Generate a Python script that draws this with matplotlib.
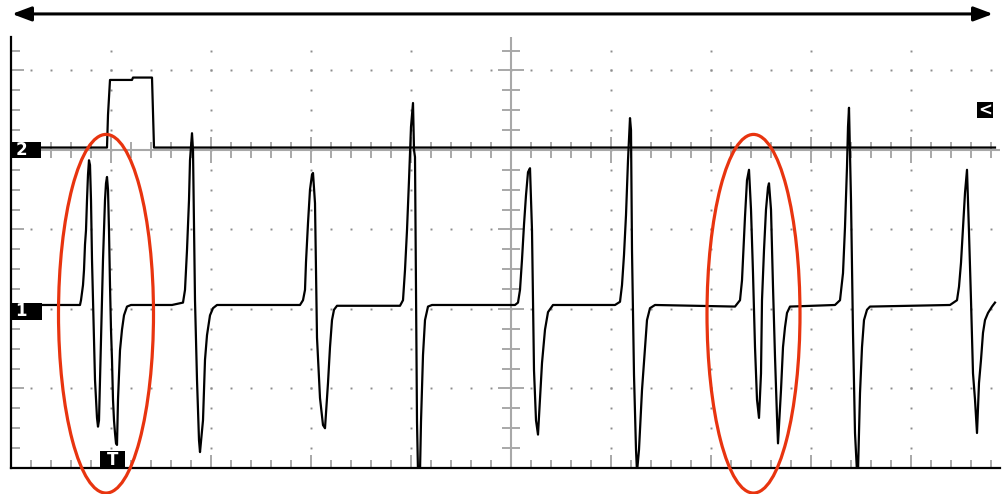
import numpy as np
import matplotlib
matplotlib.use("Agg")
import matplotlib.pyplot as plt
from matplotlib.patches import Ellipse, Rectangle

# scope capture, both axes in screen divisions
x_max = 9.89
y_max = 5.42

# channel 1 (bursts, left to right)
ch1_t = [0.30,
         0.69, 0.70, 0.71, 0.72, 0.73, 0.74, 0.75, 0.76, 0.77, 0.78, 0.79, 0.80, 0.81, 0.82, 0.83, 0.84,
         0.85, 0.86, 0.87, 0.88, 0.89, 0.90, 0.91, 0.92, 0.93, 0.94, 0.95, 0.96, 0.97, 0.98, 0.99, 1.00,
         1.01, 1.02, 1.03, 1.04, 1.05, 1.06, 1.07, 1.09, 1.11, 1.13, 1.16, 1.20,
         1.61, 1.72, 1.74, 1.76, 1.78, 1.79, 1.81, 1.82, 1.84, 1.86, 1.88, 1.89, 1.92, 1.94, 1.96, 1.99, 2.02, 2.06,
         2.89, 2.92, 2.94, 2.95, 2.97, 2.99, 3.01, 3.02, 3.04, 3.06, 3.09, 3.12, 3.14, 3.17, 3.19, 3.21, 3.23, 3.26,
         3.89, 3.92, 3.94, 3.96, 3.98, 4.00, 4.02, 4.03, 4.04, 4.05, 4.06, 4.07, 4.09, 4.10, 4.12, 4.14, 4.17, 4.21,
         5.04, 5.07, 5.09, 5.11, 5.13, 5.15, 5.17, 5.19, 5.21, 5.22, 5.23, 5.25, 5.27, 5.29, 5.31, 5.34, 5.37, 5.42,
         6.04, 6.09, 6.11, 6.13, 6.15, 6.17, 6.19, 6.20, 6.21, 6.23, 6.25, 6.26, 6.28, 6.31, 6.34, 6.36, 6.39, 6.44,
         7.24, 7.29, 7.31, 7.32, 7.34, 7.36, 7.38, 7.40, 7.42, 7.44, 7.46, 7.48, 7.50, 7.51, 7.53, 7.55, 7.57, 7.58,
         7.60, 7.62, 7.64, 7.66, 7.67, 7.70, 7.72, 7.74, 7.76, 7.79,
         8.24, 8.29, 8.32, 8.34, 8.36, 8.37, 8.38, 8.40, 8.42, 8.44, 8.45, 8.46, 8.47, 8.49, 8.51, 8.53, 8.56, 8.59,
         9.39, 9.46, 9.48, 9.50, 9.52, 9.54, 9.56, 9.58, 9.60, 9.62, 9.64, 9.66, 9.68, 9.70, 9.72, 9.74, 9.77, 9.81, 9.84]
ch1_v = [2.05,
         2.05, 2.11, 2.20, 2.30, 2.49, 2.81, 2.99, 3.37, 3.69, 3.87, 3.81, 3.37, 2.62, 2.11, 1.61, 1.11,
         0.86, 0.63, 0.52, 0.60, 1.11, 1.61, 2.11, 2.62, 2.99, 3.37, 3.58, 3.66, 3.50, 2.99, 2.30, 1.74,
         1.36, 0.86, 0.60, 0.44, 0.31, 0.29, 0.86, 1.48, 1.74, 1.92, 2.03, 2.05,
         2.05, 2.08, 2.24, 2.74, 3.37, 3.87, 4.21, 4.00, 2.11, 1.11, 0.35, 0.20, 0.60, 1.36, 1.67, 1.92, 2.01, 2.05,
         2.05, 2.11, 2.24, 2.59, 3.08, 3.50, 3.69, 3.71, 3.33, 1.64, 0.88, 0.54, 0.50, 1.07, 1.52, 1.86, 1.99, 2.04,
         2.04, 2.11, 2.49, 2.99, 3.62, 4.29, 4.59, 4.00, 3.91, 2.20, 0.58, -0.05, -0.05, 0.58, 1.42, 1.86, 2.03, 2.05,
         2.05, 2.08, 2.24, 2.62, 3.06, 3.43, 3.72, 3.77, 2.99, 2.11, 1.23, 0.60, 0.42, 0.86, 1.32, 1.74, 1.96, 2.05,
         2.05, 2.09, 2.30, 2.68, 3.18, 3.87, 4.40, 4.25, 2.74, 1.17, 0.23, -0.05, 0.23, 0.98, 1.52, 1.86, 2.01, 2.05,
         2.03, 2.11, 2.36, 2.62, 3.16, 3.62, 3.75, 3.25, 2.45, 1.52, 0.86, 0.63, 1.19, 2.11, 2.74, 3.25, 3.53, 3.58,
         3.25, 2.28, 1.40, 0.64, 0.31, 0.98, 1.52, 1.77, 1.95, 2.03,
         2.05, 2.11, 2.45, 3.03, 3.79, 4.29, 4.53, 3.37, 1.70, 0.44, 0.19, -0.05, -0.05, 0.94, 1.52, 1.86, 1.99, 2.03,
         2.05, 2.11, 2.28, 2.58, 3.03, 3.46, 3.75, 2.96, 2.11, 1.19, 0.86, 0.44, 1.07, 1.36, 1.70, 1.86, 1.95, 2.03, 2.08]

# channel 2: one gate pulse
ch2_t = [0.30, 0.96, 0.97, 0.99, 1.21, 1.22, 1.41, 1.42, 1.43, 9.84]
ch2_v = [4.03, 4.03, 4.44, 4.88, 4.88, 4.91, 4.91, 4.47, 4.03, 4.03]

ch1_ref = 1.97
ch2_ref = 4.0
trig_t = 1.015

fig = plt.figure(figsize=(10.02, 4.94), dpi=100)
ax = fig.add_axes([11 / 1002, 26 / 494, 989 / 1002, 431 / 494])
ax.set_xlim(0, x_max)
ax.set_ylim(0, y_max)
ax.set_xticks([])
ax.set_yticks([])
for s in ['top', 'right']:
    ax.spines[s].set_visible(False)
for s in ['left', 'bottom']:
    ax.spines[s].set_linewidth(1.6)
    ax.spines[s].set_zorder(4)

grid_col = '#8c8c8c'
tick_col = '#a8a8a8'

# dotted graticule
ys = np.arange(0.25, y_max, 0.25)
for gx in [1, 2, 3, 4, 6, 7, 8, 9]:
    ax.plot(np.full_like(ys, gx), ys, ls='none', marker='s', ms=1.4, mec='none', color=grid_col, zorder=1)
xs = np.arange(0.2, x_max, 0.2)
for gy in [1, 2, 3, 5]:
    ax.plot(xs, np.full_like(xs, gy), ls='none', marker='s', ms=1.4, mec='none', color=grid_col, zorder=1)

# centre lines and tick marks
ax.axvline(5, color=tick_col, lw=1.5, zorder=1)
ax.axhline(4, color=tick_col, lw=1.5, zorder=1)
xt = np.round(np.arange(0.2, x_max, 0.2), 2)
h = np.where(np.isclose(xt, np.round(xt)), 0.165, 0.1)
ax.vlines(xt, 0, h, color=tick_col, lw=1.4, zorder=1)
ax.vlines(xt, 4 - h, 4 + h, color=tick_col, lw=1.4, zorder=1)
yt = np.round(np.arange(0.25, y_max, 0.25), 2)
w = np.where(np.isclose(yt, np.round(yt)), 0.13, 0.09)
ax.hlines(yt, 0, w, color=tick_col, lw=1.4, zorder=1)
ax.hlines(yt, 5 - w, 5 + w, color=tick_col, lw=1.4, zorder=1)

# traces
ax.plot(ch2_t, ch2_v, color='black', lw=1.6, zorder=3)
ax.plot(ch1_t, ch1_v, color='black', lw=1.6, zorder=3)

# channel / trigger markers
def marker(x0, y0, bw, bh, label, tx):
    ax.add_patch(Rectangle((x0, y0), bw, bh, fc='black', ec='none', clip_on=False, zorder=5))
    ax.text(tx, y0 + bh / 2, label, color='white', fontweight='bold', fontsize=12,
            ha='center', va='center', zorder=6)

marker(0, ch2_ref - 0.1, 0.30, 0.2, '2', 0.10)
marker(0, ch1_ref - 0.105, 0.31, 0.21, '1', 0.10)
marker(trig_t - 0.125, 0, 0.25, 0.21, 'T', trig_t)
marker(9.66, 4.40, 0.16, 0.2, '<', 9.74)

# time span arrow above the screen
ax.annotate('', xy=(9.82, 5.71), xytext=(0.01, 5.71), annotation_clip=False,
            arrowprops=dict(arrowstyle='<|-|>,head_length=0.4,head_width=0.15', lw=2.2,
                            color='black', mutation_scale=29, shrinkA=0, shrinkB=0))

# circled bursts
for cx, w_e in [(0.95, 0.95), (7.425, 0.93)]:
    ax.add_patch(Ellipse((cx, 1.94), w_e, 4.51, fill=False, ec='#e8340f', lw=2.3,
                         clip_on=False, zorder=7))

fig.savefig('out.png', dpi=100)
